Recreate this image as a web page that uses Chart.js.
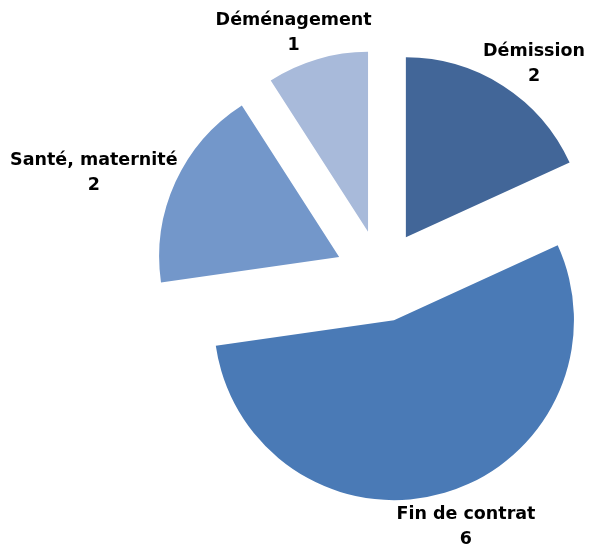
<!DOCTYPE html>
<html>
<head>
<meta charset="utf-8">
<script src="https://cdn.jsdelivr.net/npm/chart.js@4.4.1/dist/chart.umd.min.js"></script>
<style>
  html, body { margin: 0; padding: 0; background: #fff; }
  #wrap { width: 589px; height: 555px; }
</style>
</head>
<body>
<div id="wrap"><canvas id="pie" width="589" height="555"></canvas></div>
<script>
const categories = ["Démission", "Fin de contrat", "Santé, maternité", "Déménagement"];
const counts = [2, 6, 2, 1];
const sliceColors = ["#426698", "#4a7ab6", "#7397ca", "#a8bada"];

const LABEL_FONT = "bold 17.5px 'DejaVu Sans', sans-serif";
const LINE_H = 25;
// how far every slice is pulled out from the centre, in px
const EXPLODE = 46;

// chart.js' own offset also grows big slices, so move each arc ourselves
const explodeSlices = {
  id: "explodeSlices",
  beforeDatasetDraw(chart, args) {
    const ctx = chart.ctx;
    args.meta.data.forEach((arc) => {
      const mid = (arc.startAngle + arc.endAngle) / 2;
      ctx.save();
      ctx.translate(Math.cos(mid) * EXPLODE, Math.sin(mid) * EXPLODE);
      arc.draw(ctx);
      ctx.restore();
    });
    return false;
  }
};

// draws "name\nvalue" outside each slice, pushed out by the text box size
const outsideLabels = {
  id: "outsideLabels",
  afterDraw(chart) {
    const ctx = chart.ctx;
    const meta = chart.getDatasetMeta(0);
    const ds = chart.data.datasets[0];
    ctx.save();
    ctx.font = LABEL_FONT;
    ctx.fillStyle = "#000";
    ctx.textAlign = "center";
    ctx.textBaseline = "middle";
    meta.data.forEach((arc, i) => {
      const mid = (arc.startAngle + arc.endAngle) / 2;
      const dx = Math.cos(mid), dy = Math.sin(mid);
      const dist = arc.outerRadius + EXPLODE + 6;
      const lines = [chart.data.labels[i], String(ds.data[i])];
      const hw = Math.max(...lines.map((l) => ctx.measureText(l).width)) / 2;
      const hh = LINE_H;
      const cx = arc.x + dx * dist + hw * dx;
      const cy = arc.y + dy * dist + hh * dy + 4;
      ctx.fillText(lines[0], cx, cy - LINE_H / 2);
      ctx.fillText(lines[1], cx, cy + LINE_H / 2);
    });
    ctx.restore();
  }
};

new Chart(document.getElementById("pie"), {
  type: "pie",
  data: {
    labels: categories,
    datasets: [{
      data: counts,
      backgroundColor: sliceColors,
      borderWidth: 0,
      radius: 180
    }]
  },
  options: {
    responsive: false,
    animation: false,
    layout: { padding: { left: 173, right: 0, top: 0, bottom: 3 } },
    plugins: {
      legend: { display: false },
      tooltip: { enabled: false }
    }
  },
  plugins: [explodeSlices, outsideLabels]
});
</script>
</body>
</html>
